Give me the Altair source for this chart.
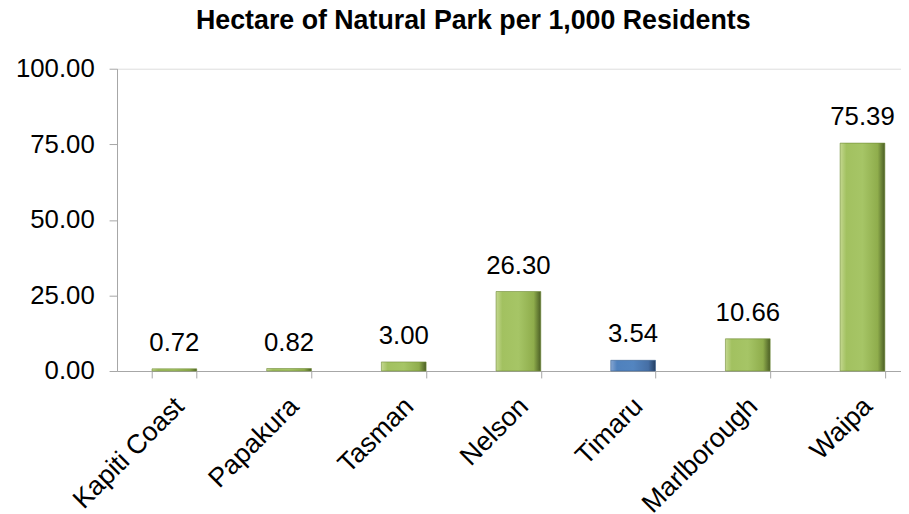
import altair as alt
import pandas as pd

regions = ["Kapiti Coast", "Papakura", "Tasman", "Nelson", "Timaru", "Marlborough", "Waipa"]
hectares = [0.72, 0.82, 3.00, 26.30, 3.54, 10.66, 75.39]
highlight = ["Timaru"]
y_ticks = [0, 25, 50, 75, 100]
title_text = "Hectare of Natural Park per 1,000 Residents"

df = pd.DataFrame({
    "region": regions,
    "value": hectares,
    "label": [f"{v:.2f}" for v in hectares],
    "group": ["blue" if r in highlight else "green" for r in regions],
})

FONT = "Liberation Sans"

green_fill = alt.LinearGradient(
    gradient="linear", x1=0, y1=0, x2=1, y2=0,
    stops=[
        alt.GradientStop(offset=0, color="#c4d88f"),
        alt.GradientStop(offset=0.14, color="#a2c160"),
        alt.GradientStop(offset=0.5, color="#a6c566"),
        alt.GradientStop(offset=0.84, color="#8fad4c"),
        alt.GradientStop(offset=1, color="#4b5e25"),
    ],
)
blue_fill = alt.LinearGradient(
    gradient="linear", x1=0, y1=0, x2=1, y2=0,
    stops=[
        alt.GradientStop(offset=0, color="#86a6d2"),
        alt.GradientStop(offset=0.14, color="#4f81bd"),
        alt.GradientStop(offset=0.5, color="#5385c0"),
        alt.GradientStop(offset=0.84, color="#466fa5"),
        alt.GradientStop(offset=1, color="#243f63"),
    ],
)

x_enc = alt.X(
    "region:N", sort=regions, title=None,
    scale=alt.Scale(range=[0, 810], paddingInner=0.61, paddingOuter=0.305),
    axis=alt.Axis(
        labelAngle=-45, labelFont=FONT, labelFontSize=27, labelColor="#000000",
        labelPadding=15, labelOffset=-4, tickSize=7, tickBand="extent",
        tickColor="#a6a6a6", domainColor="#a6a6a6", grid=False,
    ),
)
y_enc = alt.Y(
    "value:Q", title=None,
    scale=alt.Scale(domain=[0, 100], nice=False),
    axis=alt.Axis(
        values=y_ticks, format=".2f", labelFont=FONT, labelFontSize=26,
        labelColor="#000000", labelPadding=15, tickSize=8, tickColor="#a6a6a6",
        domainColor="#a6a6a6", grid=False,
    ),
)

base = alt.Chart(df)

green_bars = base.transform_filter(alt.datum.group == "green").mark_bar(
    color=green_fill, stroke="#6f8a36", strokeWidth=0.6
).encode(x=x_enc, y=y_enc)

blue_bars = base.transform_filter(alt.datum.group == "blue").mark_bar(
    color=blue_fill, stroke="#3a6190", strokeWidth=0.6
).encode(x=x_enc, y=y_enc)

labels = base.mark_text(
    baseline="alphabetic", dy=-18, font=FONT, fontSize=26, color="#000000"
).encode(x=x_enc, y=y_enc, text="label:N")

chart = alt.layer(green_bars, blue_bars, labels).properties(
    width=791,
    height=305,
    autosize=alt.AutoSizeParams(type="none"),
    padding={"left": 110, "top": 59, "right": 0, "bottom": 142},
    title=alt.TitleParams(
        text=title_text, font=FONT, fontSize=27, fontWeight="bold",
        color="#000000", anchor="middle", frame="group", dx=-36, offset=21,
    ),
).configure_view(stroke=None).configure(background="white")

chart.save("out.html", embed_options={"renderer": "svg", "actions": False})
